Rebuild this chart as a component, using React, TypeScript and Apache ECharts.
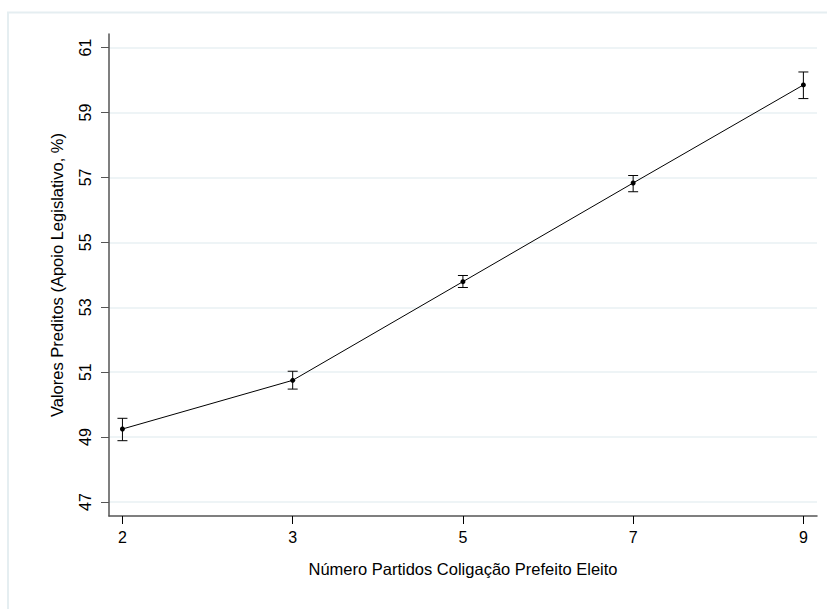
import React, { useEffect, useRef } from "react";
import * as echarts from "echarts";

const categories = ["2", "3", "5", "7", "9"];
const predicted = [49.25, 50.75, 53.79, 56.83, 59.85];
const lower = [48.89, 50.48, 53.61, 56.56, 59.43];
const upper = [49.58, 51.03, 53.98, 57.06, 60.25];
const yTicks = [47, 49, 51, 53, 55, 57, 59, 61];
const xTitle = "Número Partidos Coligação Prefeito Eleito";
const yTitle = "Valores Preditos (Apoio Legislativo, %)";

const FONT = "Arial, 'Liberation Sans', Helvetica, sans-serif";

export default function App() {
  const ref = useRef<HTMLDivElement>(null);
  useEffect(() => {
    if (!ref.current) return;
    const chart = echarts.init(ref.current, null, { renderer: "svg" });
    const idx = categories.map((_, i) => i);
    chart.setOption({
      animation: false,
      backgroundColor: "#ffffff",
      graphic: [
        {
          type: "rect",
          shape: { x: 8, y: 12.5, width: 840, height: 620 },
          style: { fill: "none", stroke: "#e5eef1", lineWidth: 2 },
          silent: true,
          z: -1,
        },
      ],
      grid: { left: 109, top: 34, right: 10, bottom: 93, containLabel: false },
      xAxis: {
        type: "value",
        min: -0.079,
        max: 4.08,
        name: xTitle,
        nameLocation: "middle",
        nameGap: 44,
        nameTextStyle: { fontFamily: FONT, fontSize: 16.5, color: "#000" },
        axisLine: { show: true, onZero: false, lineStyle: { color: "#555", width: 1.5 } },
        axisTick: {
          show: true,
          length: 8,
          customValues: idx,
          lineStyle: { color: "#000", width: 1 },
        },
        axisLabel: {
          customValues: idx,
          formatter: (v: number) => categories[Math.round(v)] ?? "",
          fontFamily: FONT,
          fontSize: 16,
          color: "#000",
          margin: 13,
        },
        splitLine: { show: false },
      },
      yAxis: {
        type: "value",
        min: 46.57,
        max: 61.42,
        name: yTitle,
        nameLocation: "middle",
        nameGap: 44,
        nameRotate: 90,
        nameTextStyle: { fontFamily: FONT, fontSize: 16.5, color: "#000" },
        axisLine: { show: true, onZero: false, lineStyle: { color: "#555", width: 1.5 } },
        axisTick: {
          show: true,
          length: 8,
          customValues: yTicks,
          lineStyle: { color: "#555", width: 1 },
        },
        axisLabel: {
          customValues: yTicks,
          rotate: 90,
          fontFamily: FONT,
          fontSize: 16,
          color: "#000",
          margin: 16,
        },
        splitLine: { show: true, lineStyle: { color: "#e8f0f3", width: 1.5 } },
      },
      series: [
        {
          type: "line",
          data: predicted.map((v, i) => [i, v]),
          symbol: "circle",
          symbolSize: 5,
          lineStyle: { color: "#000", width: 1 },
          itemStyle: { color: "#000" },
          z: 3,
        },
        {
          type: "custom",
          data: predicted.map((_, i) => [i, lower[i], upper[i]]),
          renderItem: (params: any, api: any) => {
            const x = api.value(0);
            const lo = api.coord([x, api.value(1)]);
            const hi = api.coord([x, api.value(2)]);
            const hw = 5;
            const st = { stroke: "#000", lineWidth: 1 };
            return {
              type: "group",
              children: [
                { type: "line", shape: { x1: lo[0], y1: lo[1], x2: hi[0], y2: hi[1] }, style: st },
                { type: "line", shape: { x1: lo[0] - hw, y1: lo[1], x2: lo[0] + hw, y2: lo[1] }, style: st },
                { type: "line", shape: { x1: hi[0] - hw, y1: hi[1], x2: hi[0] + hw, y2: hi[1] }, style: st },
              ],
            };
          },
          z: 2,
        },
      ],
    });
    return () => chart.dispose();
  }, []);
  return (
    <div
      ref={ref}
      style={{ position: "fixed", left: 0, top: 0, width: 827, height: 609 }}
    />
  );
}
